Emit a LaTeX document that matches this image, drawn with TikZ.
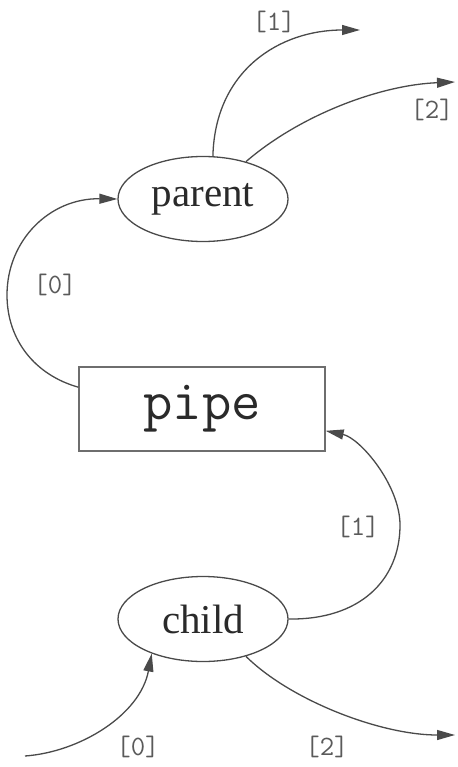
\documentclass[tikz,border=0pt]{standalone}
\usepackage{fontspec}
\setmainfont{Liberation Serif}
\usetikzlibrary{arrows.meta,shapes.geometric}
\definecolor{ln}{HTML}{4A4A4A}
\definecolor{lbl}{HTML}{5A5A5A}
\definecolor{txt}{HTML}{2A2A2A}
\begin{document}
\begin{tikzpicture}[x=1pt,y=-1pt,
  proc/.style={draw=ln,line width=1.3pt,ellipse,minimum width=170pt,minimum height=85pt,inner sep=0pt,
    text=txt,font=\fontsize{41}{41}\selectfont},
  pipebox/.style={draw=ln!80,line width=1.3pt,rectangle,minimum width=246pt,minimum height=84pt,inner sep=0pt,
    text=txt,font=\ttfamily\fontsize{57}{57}\selectfont},
  conn/.style={draw=ln,line width=1.3pt},
  arr/.style={conn,-{Triangle[length=18pt,width=10pt]}},
  lab/.style={text=lbl,font=\ttfamily\fontsize{28}{28}\selectfont,inner sep=0pt}]
\useasboundingbox (0,0) rectangle (457,767);
\node[proc] (parent) at (203,199) {parent};
\node[pipebox] (pipe) at (202,409) {pipe};
\node[proc] (child) at (203,619) {child};
\coordinate (p1end) at (360,30);
\coordinate (p2end) at (455,82);
\coordinate (c0start) at (25,756);
\coordinate (c2end) at (455,735);
% parent outputs
\draw[arr] (parent.77) .. controls (215,70) and (280,30) .. (p1end);
\draw[arr] (parent.41) .. controls (300,115) and (380,85) .. (p2end);
% pipe to parent
\draw[arr] (pipe.170) .. controls (35,375) and (7,340) .. (7,295)
  .. controls (7,240) and (50,198) .. (parent.west);
% child to pipe
\draw[arr] (child.east) .. controls (360,620) and (400,580) .. (400,525)
  .. controls (400,485) and (360,438) .. (pipe.-10);
% child in/out
\draw[arr] (c0start) .. controls (80,752) and (140,715) .. (child.214);
\draw[arr] (child.319) .. controls (290,700) and (380,735) .. (c2end);
% labels
\node[lab] (l1) at (274,22) {[1]};
\node[lab] (l2) at (432,110) {[2]};
\node[lab] (l0) at (55,285) {[0]};
\node[lab] (l1b) at (358,527) {[1]};
\node[lab] (l0b) at (138,747) {[0]};
\node[lab] (l2b) at (327,747) {[2]};
\end{tikzpicture}
\end{document}
